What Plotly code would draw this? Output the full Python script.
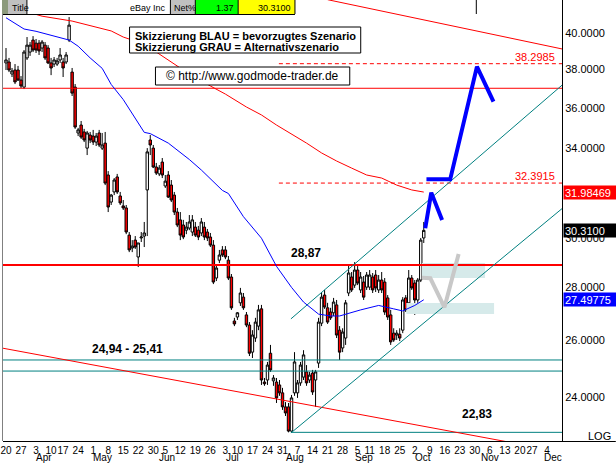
import numpy as np
import plotly.graph_objects as go

# ---------------- data (trading-day index, 0 = 20 Mar 2006) ----------------
day = list(range(140))
open_ = [38.34, 38.39, 37.75, 37.96, 37.96, 37.43, 37.06, 38.61, 38.93, 39.59,
         39.42, 39.42, 39.15, 39.31, 39.15, 38.34, 38.28, 38.28, 38.50, 38.39,
         38.39, 39.59, 37.85, 37.06, 34.75, 35.14, 34.80, 34.02, 34.65, 34.60,
         34.31, 34.75, 34.02, 34.26, 32.76, 31.54, 31.99, 32.67, 31.81, 31.37,
         31.28, 30.11, 29.57, 29.90, 29.20, 29.99, 30.07, 32.08, 34.41, 34.02,
         33.13, 32.81, 33.36, 32.26, 32.76, 32.30, 31.85, 31.10, 30.76, 30.54,
         30.32, 30.41, 30.24, 30.45, 30.32, 30.20, 30.45, 30.24, 30.03, 29.69,
         28.35, 29.07, 29.49, 29.49, 29.07, 28.39, 26.69, 26.84, 27.38, 27.60,
         26.92, 26.54, 25.55, 26.06, 26.50, 27.15, 24.50, 24.57, 25.51, 24.54,
         24.50, 24.40, 24.13, 23.66, 23.66, 22.87, 24.13, 24.13, 24.47, 24.67,
         24.85, 24.57, 24.81, 24.57, 25.16, 26.61, 27.68, 27.19, 27.03, 27.00,
         27.30, 26.35, 25.70, 26.06, 27.76, 28.39, 28.07, 28.67, 27.88, 28.19,
         27.99, 27.99, 28.39, 28.47, 27.88, 28.27, 28.19, 27.57, 26.92, 26.24,
         26.17, 26.20, 26.35, 27.57, 27.38, 28.35, 28.15, 27.49, 28.27, 29.99]
high = [39.15, 38.61, 38.07, 38.28, 38.18, 37.64, 39.04, 39.76, 39.48, 39.81,
        39.65, 39.59, 39.59, 39.48, 39.31, 38.61, 38.66, 38.61, 39.15, 38.61,
        38.93, 40.89, 38.07, 37.22, 35.00, 35.34, 34.95, 34.85, 34.80, 34.90,
        34.75, 34.90, 34.75, 34.80, 32.94, 31.90, 32.62, 32.81, 31.99, 31.63,
        31.41, 30.24, 29.90, 30.07, 29.78, 30.24, 30.67, 34.02, 34.65, 34.17,
        33.32, 33.22, 33.55, 32.76, 32.94, 32.53, 31.99, 31.28, 31.10, 30.76,
        30.67, 30.97, 30.97, 30.67, 30.50, 30.84, 30.67, 30.37, 30.20, 29.90,
        28.87, 29.49, 29.65, 29.65, 29.24, 28.51, 26.81, 27.03, 27.96, 27.76,
        27.03, 26.65, 26.35, 26.81, 27.30, 27.30, 24.64, 25.20, 25.81, 24.74,
        24.64, 24.57, 24.30, 23.82, 23.79, 24.06, 25.55, 24.57, 25.20, 25.62,
        25.09, 24.85, 24.92, 24.92, 26.81, 27.80, 27.88, 27.38, 27.19, 27.57,
        27.49, 26.50, 26.42, 27.49, 28.87, 28.59, 28.99, 28.83, 28.59, 28.43,
        28.59, 28.67, 28.55, 28.67, 28.47, 28.59, 28.35, 27.68, 27.11, 26.42,
        26.35, 26.42, 27.60, 27.68, 28.67, 28.47, 28.27, 28.35, 29.99, 30.67]
low = [37.96, 37.85, 37.59, 37.22, 37.38, 37.01, 36.96, 38.50, 38.72, 38.93,
       38.88, 38.77, 38.93, 38.50, 38.28, 37.69, 38.12, 38.18, 38.34, 37.59,
       38.28, 39.48, 36.60, 34.95, 34.60, 34.46, 34.31, 33.69, 34.26, 34.17,
       34.12, 34.07, 33.93, 32.30, 31.10, 31.41, 31.85, 31.90, 31.41, 31.19,
       30.15, 29.40, 29.40, 29.53, 28.79, 29.82, 29.61, 30.07, 33.69, 33.08,
       32.76, 32.71, 32.62, 32.17, 31.72, 31.54, 30.97, 30.45, 29.90, 29.94,
       30.15, 30.32, 30.07, 30.03, 29.90, 30.07, 29.90, 29.86, 29.61, 28.11,
       28.23, 28.95, 29.20, 29.11, 28.27, 27.11, 26.50, 26.73, 27.26, 27.11,
       26.46, 25.41, 25.34, 25.92, 26.35, 24.40, 24.37, 24.40, 24.85, 24.37,
       23.79, 24.03, 23.56, 23.36, 22.83, 22.85, 24.03, 23.96, 24.37, 24.57,
       24.37, 24.47, 24.06, 23.66, 24.99, 26.50, 27.15, 26.58, 26.73, 26.88,
       26.06, 25.27, 25.55, 25.81, 27.64, 27.80, 27.96, 28.07, 27.76, 27.49,
       27.88, 27.88, 27.76, 27.80, 27.76, 27.76, 26.92, 26.73, 25.81, 25.92,
       25.99, 25.95, 26.24, 27.03, 27.30, 27.88, 26.92, 27.38, 28.19, 29.78]
close = [38.50, 37.96, 37.91, 37.33, 37.43, 37.12, 38.93, 39.31, 39.31, 39.04,
         39.04, 38.99, 39.48, 38.61, 38.34, 38.07, 38.50, 38.45, 38.77, 38.07,
         38.77, 40.43, 36.75, 35.04, 34.90, 34.55, 34.41, 34.75, 34.41, 34.31,
         34.60, 34.17, 34.17, 32.39, 31.32, 31.85, 32.53, 31.99, 31.50, 31.28,
         30.24, 29.49, 29.65, 29.61, 29.78, 30.03, 30.20, 33.84, 34.17, 33.13,
         32.85, 33.08, 32.76, 32.48, 31.76, 31.63, 31.10, 30.54, 30.11, 30.03,
         30.45, 30.67, 30.76, 30.11, 30.03, 30.67, 30.03, 29.99, 29.69, 28.19,
         28.75, 29.28, 29.28, 29.20, 28.35, 27.19, 26.58, 27.00, 27.76, 27.19,
         26.54, 25.51, 26.17, 26.65, 27.11, 24.57, 24.44, 25.09, 24.92, 24.64,
         23.96, 24.13, 23.66, 23.46, 22.87, 23.96, 25.20, 24.47, 25.09, 25.45,
         24.47, 24.74, 24.16, 24.85, 26.65, 27.60, 27.22, 26.65, 26.81, 27.41,
         26.17, 25.55, 26.28, 27.38, 28.55, 27.88, 28.67, 28.15, 28.39, 27.60,
         28.47, 28.47, 27.88, 27.96, 28.27, 27.88, 27.03, 26.84, 25.92, 25.99,
         26.24, 26.06, 27.49, 27.11, 28.35, 27.96, 27.49, 28.27, 29.90, 30.31]

# moving averages
ma50_day = [0, 6, 10, 16, 21, 24, 28, 32, 35, 39, 43, 46, 48, 54, 61, 65, 72, 74,
            79, 85, 90, 95, 99, 104, 108, 111, 118, 124, 129, 132, 136, 139]
ma50_val = [40.85, 40.21, 40.08, 39.81, 39.59, 39.25, 38.61, 38.05, 37.20, 36.42,
            35.50, 34.78, 34.72, 34.26, 33.48, 32.99, 32.06, 31.92, 30.90, 29.98,
            28.82, 27.98, 27.41, 26.95, 26.88, 26.88, 27.11, 27.28, 27.15, 27.07,
            27.28, 27.49775]
ma200_day = [0, 12, 22, 35, 39, 45, 50, 55, 62, 68, 73, 80, 85, 90, 95, 100, 105,
             110, 115, 120, 125, 130, 135, 139]
ma200_val = [41.55, 40.94, 40.66, 40.10, 39.76, 39.42, 38.93, 38.39, 37.64, 37.12,
             36.70, 36.04, 35.64, 35.14, 34.70, 34.26, 33.79, 33.41, 33.08, 32.76,
             32.62, 32.30, 32.08, 31.98469]

# horizontal levels
res_37 = 37.0
res_2887 = 28.87
sup_zone = [25.27, 24.88]
sup_2283 = 22.83
fib_levels = [38.2985, 32.3915]

# trend lines (day, price)
top_line_day, top_line_val = [107, 185], [41.9, 39.1]
bot_line_day, bot_line_val = [-1, 185], [25.69, 22.21]
chan_up_day, chan_up_val = [94.8, 185], [26.77, 37.16]
chan_lo_day, chan_lo_val = [94.8, 185], [22.81, 31.25]

# scenarios
blue1_day, blue1_val = [139.5, 141.5, 145.1], [30.40, 31.96, 30.76]
blue2_day, blue2_val = [139.9, 147.8, 156.7, 162.2], [32.56, 32.56, 38.14, 36.31]
gray_day, gray_val = [138.4, 141.2, 145.9, 150.6], [28.36, 28.34, 27.21, 29.32]
zone1_day, zone1_val = [138.4, 159.4], [28.35, 28.95]
zone2_day, zone2_val = [133.2, 162.4], [26.95, 27.37]

week_day = [0, 5, 10, 15, 19, 24, 29, 34, 39, 44, 49, 53, 58, 63, 68, 73, 77, 82, 87,
            92, 97, 102, 107, 112, 117, 121, 126, 131, 136, 141, 146, 151, 156, 161,
            166, 171, 175, 180]
week_lbl = ["20", "27", "3", "10", "17", "24", "1", "8", "15", "22", "30", "5", "12",
            "19", "26", "3", "10", "17", "24", "31", "7", "14", "21", "28", "5", "11",
            "18", "25", "2", "9", "16", "23", "30", "6", "13", "20", "27", "4"]
month_day = [10, 29, 51, 73, 93, 116, 136, 158, 179]
month_lbl = ["Apr", "May", "Jun", "Jul", "Aug", "Sep", "Oct", "Nov", "Dec"]
ytick_vals = [24, 26, 28, 30, 34, 36, 38, 40]

# ---------------- layout helpers ----------------
W, H = 616, 464
ML, MR, MT, MB = 1, 54, 0, 23
PW, PH = W - ML - MR, H - MT - MB
FONT = "Liberation Sans, Arial, sans-serif"


def px(xp):
    return (xp - ML) / PW


def py(yp):
    return (H - MB - yp) / PH


X0, X1 = -1.0, 185.0
Y0, Y1 = 22.554, 41.88

fig = go.Figure()

# light zones
for zd, zv in [(zone1_day, zone1_val), (zone2_day, zone2_val)]:
    fig.add_trace(go.Scatter(x=[zd[0], zd[1], zd[1], zd[0], zd[0]],
                             y=[zv[0], zv[0], zv[1], zv[1], zv[0]],
                             fill="toself", fillcolor="#D6EAEA", mode="lines",
                             line=dict(width=0, color="#D6EAEA"), hoverinfo="skip"))

fig.add_trace(go.Candlestick(
    x=day, open=open_, high=high, low=low, close=close,
    increasing=dict(line=dict(color="black", width=1), fillcolor="white"),
    decreasing=dict(line=dict(color="black", width=1), fillcolor="#FF0000"),
    whiskerwidth=0, hoverinfo="skip"))


def hline(val, color, width, x0=X0, x1=X1, dash="solid"):
    fig.add_trace(go.Scatter(x=[x0, x1], y=[val, val], mode="lines",
                             line=dict(color=color, width=width, dash=dash),
                             hoverinfo="skip"))


hline(res_37, "#FF0000", 1)
hline(res_2887, "#FF0000", 2)
for v in sup_zone:
    hline(v, "#008080", 1)
hline(sup_2283, "#008080", 1, x0=chan_lo_day[0])
for v in fib_levels:
    hline(v, "#FF0000", 1, x0=90.8, dash="4px,3px")

for d, v, c in [(top_line_day, top_line_val, "#FF0000"),
                (bot_line_day, bot_line_val, "#FF0000"),
                (chan_up_day, chan_up_val, "#008080"),
                (chan_lo_day, chan_lo_val, "#008080")]:
    fig.add_trace(go.Scatter(x=d, y=v, mode="lines", line=dict(color=c, width=1),
                             hoverinfo="skip"))

fig.add_trace(go.Scatter(x=ma200_day, y=ma200_val, mode="lines",
                         line=dict(color="#FF0000", width=1), hoverinfo="skip"))
fig.add_trace(go.Scatter(x=ma50_day, y=ma50_val, mode="lines",
                         line=dict(color="#0000FF", width=1), hoverinfo="skip"))

fig.add_trace(go.Scatter(x=gray_day, y=gray_val, mode="lines",
                         line=dict(color="#C8C8C8", width=4), hoverinfo="skip"))
for d, v in [(blue1_day, blue1_val), (blue2_day, blue2_val)]:
    fig.add_trace(go.Scatter(x=d, y=v, mode="lines",
                             line=dict(color="#0000FF", width=4), hoverinfo="skip"))

# ---------------- annotations ----------------
ann = []


def txt(text, x, y, xref="x", yref="y", size=11, color="black", xanchor="center",
        yanchor="middle", yshift=0, xshift=0, **kw):
    ann.append(dict(text=text, x=x, y=y, xref=xref, yref=yref, showarrow=False,
                    font=dict(family=FONT, size=size, color=color),
                    xanchor=xanchor, yanchor=yanchor, yshift=yshift, xshift=xshift, **kw))


txt("<b>28,87</b>", 99.8, np.log10(res_2887), size=12, yshift=12)
txt("<b>24,94 - 25,41</b>", 40.4, np.log10(sup_zone[0]), size=12, yshift=11)
txt("<b>22,83</b>", 156.8, np.log10(sup_2283), size=12, yshift=18)
for v in fib_levels:
    txt(f"{v:.4f}", 183.3, np.log10(v), color="#FF0000", xanchor="right", yshift=7)

txt("<b>Skizzierung BLAU = bevorzugtes Szenario</b>", px(131), py(35.5),
    xref="paper", yref="paper", xanchor="left")
txt("<b>Skizzierung GRAU = Alternativszenario</b>", px(131), py(47),
    xref="paper", yref="paper", xanchor="left")
txt("\u00a9 http://www.godmode-trader.de", px(251.5), py(76), xref="paper",
    yref="paper", size=12)
txt("LOG", px(613), py(436), xref="paper", yref="paper", xanchor="right")

for val, bg in [(31.98469, "#FF0000"), (30.31, "#000000"), (27.49775, "#0000FF")]:
    label = f"{val:.5f}" if val != 30.31 else f"{val:.4f}"
    txt(label, 1, np.log10(val), xref="paper", color="white", xanchor="left",
        xshift=1, bgcolor=bg, width=51, height=11, borderpad=1, align="left")

for d, m in zip(month_day, month_lbl):
    txt(m, d - 0.3, 0, yref="paper", xanchor="left", yanchor="bottom", yshift=-23,
        size=10, borderpad=0)

# header texts
for t, xp, anc in [("Title", 8, "left"), ("eBay Inc", 167, "right"),
                   ("Net%", 170.5, "left"), ("1.37", 235, "right"),
                   ("30.3100", 292, "right")]:
    txt(t, px(xp), py(7.5), xref="paper", yref="paper", size=9, xanchor=anc)

# ---------------- decorative shapes (paper coords) ----------------
shapes = []


def rect(x0, y0, x1, y1, fill, line=None, lw=1):
    shapes.append(dict(type="rect", xref="paper", yref="paper", x0=px(x0), x1=px(x1),
                       y0=py(y1), y1=py(y0), fillcolor=fill, layer="above",
                       line=dict(color=line or fill, width=lw if line else 0)))


def seg(x0, y0, x1, y1, color="black", lw=1):
    shapes.append(dict(type="line", xref="paper", yref="paper", x0=px(x0), x1=px(x1),
                       y0=py(y0), y1=py(y1), layer="above",
                       line=dict(color=color, width=lw)))


rect(0, 0, 6, 14, "#8C9A7C")
rect(6, 0, 25, 14, "#C0C0C0")
rect(25, 0, 169, 14, "#FFFFFF")
rect(169, 0, 194, 14, "#C0C0C0")
rect(194, 0, 237, 14, "#00FF00")
rect(237, 0, 294, 14, "#FFFF00")
for xv in [25, 169, 194, 237, 294]:
    seg(xv, 0, xv, 14)
seg(0, 14.5, 294, 14.5)
seg(476, 0, 476, 14)
seg(0.5, 14, 0.5, 441, color="#808080")
seg(562, 441.5, 616, 441.5)

rect(128, 27, 360, 53, "#FFFFFF", line="black")
rect(154, 67, 349, 85, "#FFFFFF", line="black")

fig.update_layout(
    width=W, height=H, margin=dict(l=ML, r=MR, t=MT, b=MB),
    paper_bgcolor="white", plot_bgcolor="white", showlegend=False,
    font=dict(family=FONT, size=11, color="black"),
    annotations=ann, shapes=shapes, boxgap=0.2, boxgroupgap=0,
    xaxis=dict(range=[X0, X1], tickmode="array", tickvals=week_day, ticktext=week_lbl,
               tickangle=0, showgrid=False, zeroline=False, showline=True,
               linecolor="black", linewidth=1, ticks="", ticklabeloverflow="allow",
               tickfont=dict(family=FONT, size=10, color="black"),
               rangeslider=dict(visible=False), fixedrange=True),
    yaxis=dict(type="log", range=[np.log10(Y0), np.log10(Y1)], side="right",
               tickmode="array", tickvals=ytick_vals,
               ticktext=[f"{v:.4f}" for v in ytick_vals],
               showgrid=False, zeroline=False, showline=True, linecolor="black",
               linewidth=1, ticks="", tickfont=dict(family=FONT, size=11, color="black"),
               fixedrange=True),
)

fig.write_html("out.html", config={"displayModeBar": False},
               post_script="document.body.style.margin='0px';"
                           "document.body.style.padding='0px';"
                           "document.body.style.overflow='hidden';")
